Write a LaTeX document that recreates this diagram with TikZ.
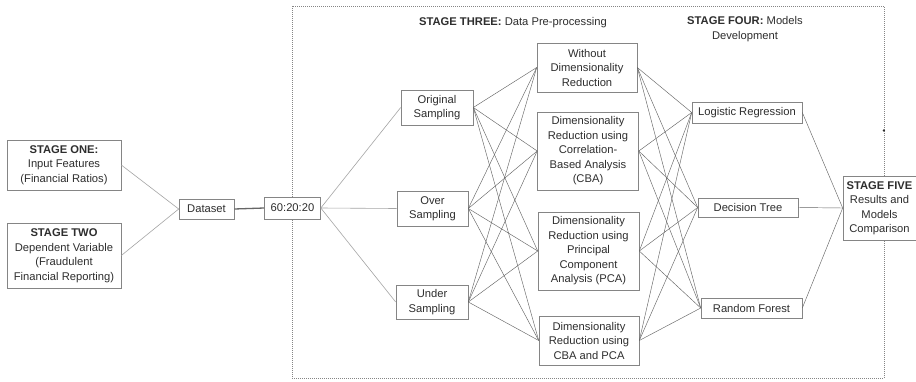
\documentclass[tikz,border=0pt]{standalone}
\usepackage{fontspec}
\setmainfont{Liberation Sans}
\definecolor{boxc}{HTML}{858585}
\definecolor{txtc}{HTML}{2E2E2E}
\definecolor{linec}{HTML}{666666}
\definecolor{lightc}{HTML}{A5A5A5}
\begin{document}
\begin{tikzpicture}[x=1pt,y=-1pt,
  box/.style={draw=boxc, line width=0.6pt, fill=white, align=center, inner sep=0pt, text=txtc,
    font=\fontsize{11.2}{14.5}\selectfont},
  head/.style={align=center, inner sep=0pt, text=txtc, font=\fontsize{11.2}{14.5}\selectfont},
  mesh/.style={draw=linec, line width=0.45pt},
  soft/.style={draw=lightc, line width=0.6pt}]
\useasboundingbox (0,0) rectangle (916,381);
\fill[white] (0,0) rectangle (916,381);
% dotted stage frame
\draw[boxc, line width=0.6pt, dash pattern=on 1pt off 1pt] (292,6) rectangle (884,378);
\fill[txtc] (883.8,130.5) circle (1.3pt);
% headings
\node[head] (h3) at (513,23) {\textbf{STAGE THREE:} Data Pre-processing};
\node[head] (h4) at (745,29) {\textbf{STAGE FOUR:} Models\\Development};
% boxes
\node[box, minimum width=114, minimum height=50] (s1) at (64,165) {\textbf{STAGE ONE:}\\Input Features\\(Financial Ratios)};
\node[box, minimum width=114, minimum height=65] (s2) at (64,255.5) {\textbf{STAGE TWO}\\Dependent Variable\\(Fraudulent\\Financial Reporting)};
\node[box, minimum width=55, minimum height=20] (ds) at (206.5,209) {Dataset};
\node[box, minimum width=56, minimum height=22] (sp) at (292.5,208) {60:20:20};
\node[box, minimum width=72, minimum height=35] (os) at (437,107.5) {Original\\Sampling};
\node[box, minimum width=71, minimum height=35] (ov) at (432.5,208.5) {Over\\Sampling};
\node[box, minimum width=72, minimum height=34] (us) at (432,302) {Under\\Sampling};
\node[box, minimum width=100, minimum height=49] (d1) at (587,67.5) {Without\\Dimensionality\\Reduction};
\node[box, minimum width=101, minimum height=78] (d2) at (588,151) {Dimensionality\\Reduction using\\Correlation-\\Based Analysis\\(CBA)};
\node[box, minimum width=101, minimum height=78] (d3) at (588.5,251) {Dimensionality\\Reduction using\\Principal\\Component\\Analysis (PCA)};
\node[box, minimum width=100, minimum height=49] (d4) at (589,340.5) {Dimensionality\\Reduction using\\CBA and PCA};
\node[box, minimum width=110, minimum height=21] (lr) at (747,112.5) {Logistic Regression};
\node[box, minimum width=100, minimum height=19] (dt) at (748,207.5) {Decision Tree};
\node[box, minimum width=101, minimum height=20] (rf) at (751.5,308) {Random Forest};
\node[box, minimum width=73, minimum height=64] (s5) at (879.5,208) {\textbf{STAGE FIVE}\\Results and\\Models\\Comparison};
% connectors
\draw[soft] (s1.east) -- (ds.west);
\draw[soft] (s2.east) -- (ds.west);
\draw[linec, line width=1.3pt] (ds.east) -- (sp.west);
\foreach \t in {os,ov,us} \draw[soft] (sp.east) -- (\t.west);
\foreach \s in {os,ov,us} \foreach \t in {d1,d2,d3,d4} \draw[mesh] (\s.east) -- (\t.west);
\foreach \s in {d1,d2,d3,d4} \foreach \t in {lr,dt,rf} \draw[mesh] (\s.east) -- (\t.west);
\foreach \s in {lr,dt,rf} \draw[mesh] (\s.east) -- (s5.west);
\end{tikzpicture}
\end{document}
